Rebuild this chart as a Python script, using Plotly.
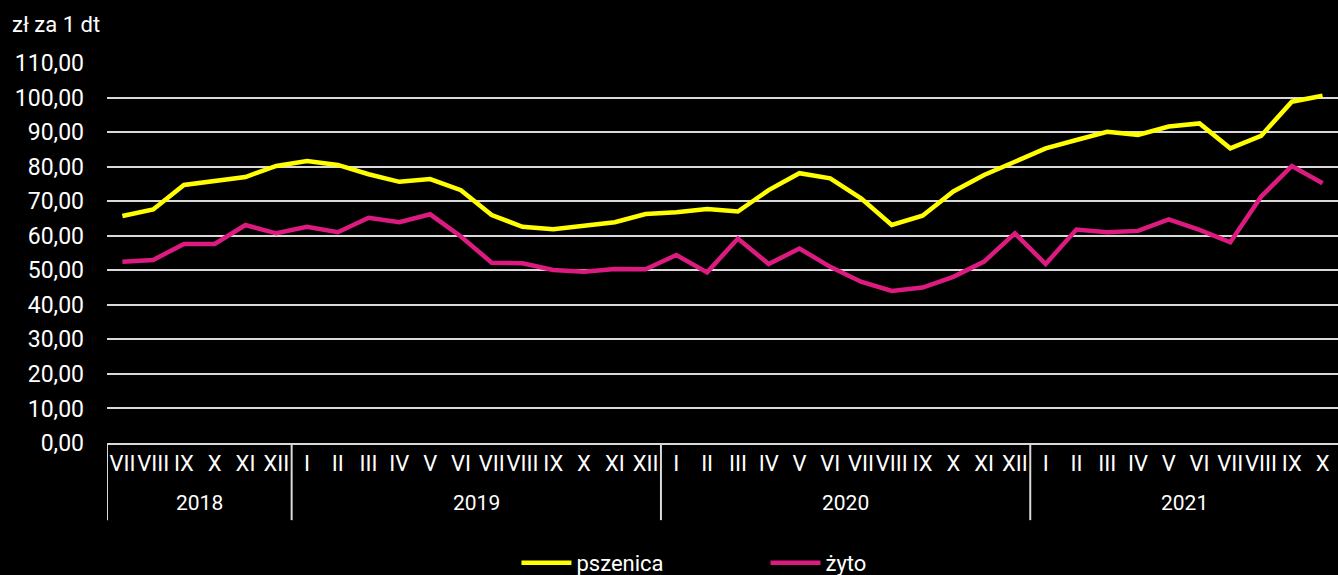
import plotly.graph_objects as go

years = ["2018", "2019", "2020", "2021"]
months_per_year = [6, 12, 12, 10]
months = (["VII", "VIII", "IX", "X", "XI", "XII"]
          + ["I", "II", "III", "IV", "V", "VI", "VII", "VIII", "IX", "X", "XI", "XII"]
          + ["I", "II", "III", "IV", "V", "VI", "VII", "VIII", "IX", "X", "XI", "XII"]
          + ["I", "II", "III", "IV", "V", "VI", "VII", "VIII", "IX", "X"])

pszenica = [65.7, 67.6, 74.7, 75.8, 77.0, 80.2,
            81.6, 80.5, 77.8, 75.6, 76.4, 73.2, 66.0, 62.6, 61.9, 62.9, 63.9, 66.3,
            66.8, 67.7, 67.0, 73.2, 78.1, 76.6, 70.8, 63.1, 65.8, 72.8, 77.6, 81.4,
            85.3, 87.7, 90.1, 89.2, 91.6, 92.5, 85.3, 88.9, 98.8, 100.5]
zyto = [52.5, 53.0, 57.6, 57.6, 63.1, 60.7,
        62.6, 61.0, 65.2, 63.9, 66.2, 59.8, 52.2, 52.0, 50.1, 49.6, 50.4, 50.3,
        54.4, 49.4, 59.2, 51.8, 56.3, 51.0, 46.7, 44.0, 45.0, 48.1, 52.5, 60.7,
        51.8, 61.8, 61.0, 61.4, 64.7, 61.7, 58.1, 71.3, 80.2, 75.2]

FONT = "Roboto"
GRID = "#d9d9d9"
idx = list(range(len(months)))

fig = go.Figure()
fig.add_trace(go.Scatter(x=idx, y=pszenica, mode="lines", name="pszenica",
                         line=dict(color="#ffff00", width=4.5)))
fig.add_trace(go.Scatter(x=idx, y=zyto, mode="lines", name="żyto",
                         line=dict(color="#dc1a7f", width=4.5)))

annotations = [dict(text="zł za 1 dt", xref="paper", yref="paper", x=-0.079, y=1.1,
                    xanchor="left", yanchor="middle", showarrow=False,
                    font=dict(size=22, color="white"))]
shapes = []
start = 0
boundaries = [-0.5]
for yr, n in zip(years, months_per_year):
    center = start + (n - 1) / 2
    annotations.append(dict(text=yr, xref="x", yref="paper", x=center, y=-0.158,
                            xanchor="center", yanchor="middle", showarrow=False,
                            font=dict(size=21, color="white")))
    start += n
    boundaries.append(start - 0.5)
for b in boundaries[:-1]:
    shapes.append(dict(type="line", xref="x", yref="paper", x0=b, x1=b, y0=0, y1=-0.203,
                       line=dict(color=GRID, width=2)))

fig.update_layout(
    width=1338, height=575,
    paper_bgcolor="black", plot_bgcolor="black",
    font=dict(family=FONT, color="white", size=21),
    margin=dict(l=107, r=0, t=63, b=132),
    separators=", ",
    showlegend=True,
    legend=dict(orientation="h", xref="container", yref="container",
                x=0.386, xanchor="left", y=0.021, yanchor="middle",
                font=dict(size=22, color="white"), entrywidth=184, entrywidthmode="pixels",
                itemwidth=50, bgcolor="rgba(0,0,0,0)"),
    annotations=annotations,
    shapes=shapes,
)
fig.update_yaxes(range=[0, 110], dtick=10, tickformat=".2f", showgrid=True,
                 gridcolor=GRID, gridwidth=2, zeroline=False,
                 tickfont=dict(size=23), ticks="", ticklabelstandoff=22, automargin=False)
fig.update_xaxes(range=[-0.5, len(months) - 0.5], tickmode="array", tickvals=idx,
                 ticktext=months, tickangle=0, showgrid=False, showline=True, linecolor=GRID,
                 linewidth=2, zeroline=False, tickfont=dict(size=22), ticks="",
                 automargin=False)

fig.write_html("out.html", config={"displayModeBar": False},
               post_script="document.body.style.margin='0';")
